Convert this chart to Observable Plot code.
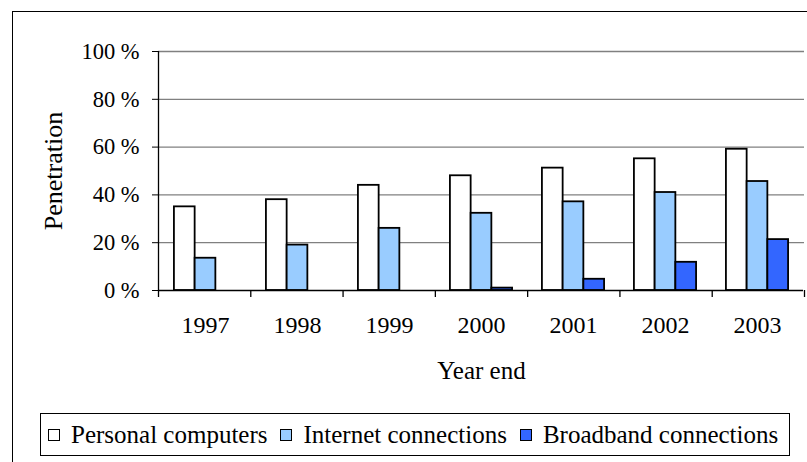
<!DOCTYPE html>
<html>
<head>
<meta charset="utf-8">
<script src="https://cdn.jsdelivr.net/npm/d3@7"></script>
<script src="https://cdn.jsdelivr.net/npm/@observablehq/plot@0.6"></script>
<style>
  body { margin: 0; background: #fff; }
  #wrap { position: relative; width: 807px; height: 462px; overflow: hidden; background: #fff;
          font-family: "Liberation Serif", "Times New Roman", serif; color: #000; }
  #border { position: absolute; left: 12px; top: 11px; width: 820px; height: 470px;
            border-left: 1px solid #000; border-top: 1px solid #000; }
  #wrap svg { position: absolute; left: 0; top: 0; }
  #legend { position: absolute; left: 40px; top: 413px; width: 750px; height: 43px; box-sizing: border-box;
            border: 1px solid #000; background: #fff; display: flex; align-items: center;
            padding-left: 7px; font-size: 25px; white-space: nowrap; }
  .sw { display: inline-block; width: 12px; height: 12px; box-sizing: border-box; border: 1.5px solid #000;
        margin-right: 11px; flex: none; }
  .lab { margin-right: 13px; }
</style>
</head>
<body>
<div id="wrap">
  <div id="border"></div>
</div>
<script>
const years = ["1997", "1998", "1999", "2000", "2001", "2002", "2003"];
const seriesNames = ["Personal computers", "Internet connections", "Broadband connections"];
const personalComputers = [35, 38, 44, 48, 51.2, 55.1, 59.1];
const internetConnections = [13.5, 19, 26, 32.3, 37.1, 41, 45.6];
const broadbandConnections = [null, null, null, 1, 4.7, 11.8, 21.3];
const seriesColors = ["#FFFFFF", "#99CCFF", "#3366FF"];
const yTicks = [0, 20, 40, 60, 80, 100];

const seriesValues = [personalComputers, internetConnections, broadbandConnections];
const data = [];
years.forEach((year, i) => {
  seriesNames.forEach((s, k) => {
    const v = seriesValues[k][i];
    if (v != null) data.push({year, series: s, value: v});
  });
});

const W = 807, H = 462;
const margins = {marginLeft: 158, marginRight: 3, marginTop: 51, marginBottom: 172};
const font = '"Liberation Serif", "Times New Roman", serif';

// Background layer: grid, axes lines, boundary ticks, y labels, titles
const back = Plot.plot({
  width: W, height: H, ...margins,
  style: {background: "transparent", fontFamily: font, color: "#000", overflow: "visible"},
  x: {domain: [0, years.length], axis: null},
  y: {domain: [0, 100], axis: null},
  marks: [
    Plot.gridY(yTicks.slice(1), {stroke: "#808080", strokeOpacity: 1, strokeWidth: 1.3}),
    Plot.axisY({ticks: yTicks, tickSize: 6, tickPadding: 13, tickFormat: d => `${d} %`,
                fontSize: 22.5, label: null, stroke: "#000"}),
    Plot.axisX({ticks: d3.range(years.length + 1), tickSize: 7, tickFormat: () => "",
                label: null, stroke: "#000", strokeWidth: 1.3}),
    Plot.ruleX([0], {stroke: "#000", strokeWidth: 1.3}),
    Plot.text(["Penetration"], {frameAnchor: "left", textAnchor: "middle", lineAnchor: "middle",
                                dx: -105, rotate: -90, fontSize: 26, fill: "#000"}),
    Plot.text(["Year end"], {frameAnchor: "bottom", textAnchor: "middle", lineAnchor: "middle",
                             dy: 80, fontSize: 25, fill: "#000"})
  ]
});

// Foreground layer: grouped bars and year labels
const front = Plot.plot({
  width: W, height: H, ...margins,
  style: {background: "transparent", fontFamily: font, color: "#000", overflow: "visible"},
  fx: {domain: years, padding: 0, label: null},
  x: {domain: seriesNames, paddingInner: 0, paddingOuter: 0.72, axis: null, round: false},
  y: {domain: [0, 100], axis: null},
  color: {domain: seriesNames, range: seriesColors},
  marks: [
    Plot.barY(data, {fx: "year", x: "series", y: "value", fill: "series", stroke: "#000", strokeWidth: 1.8}),
    Plot.ruleY([0], {stroke: "#000", strokeWidth: 1.5}),
    Plot.axisFx({anchor: "bottom", tickSize: 0, tickPadding: 25, fontSize: 24, label: null})
  ]
});

const wrap = document.getElementById("wrap");
wrap.appendChild(back);
wrap.appendChild(front);

// Legend
const legend = document.createElement("div");
legend.id = "legend";
seriesNames.forEach((s, k) => {
  const sw = document.createElement("span");
  sw.className = "sw";
  sw.style.background = seriesColors[k];
  const lab = document.createElement("span");
  lab.className = "lab";
  lab.textContent = s;
  legend.appendChild(sw);
  legend.appendChild(lab);
});
wrap.appendChild(legend);
</script>
</body>
</html>
